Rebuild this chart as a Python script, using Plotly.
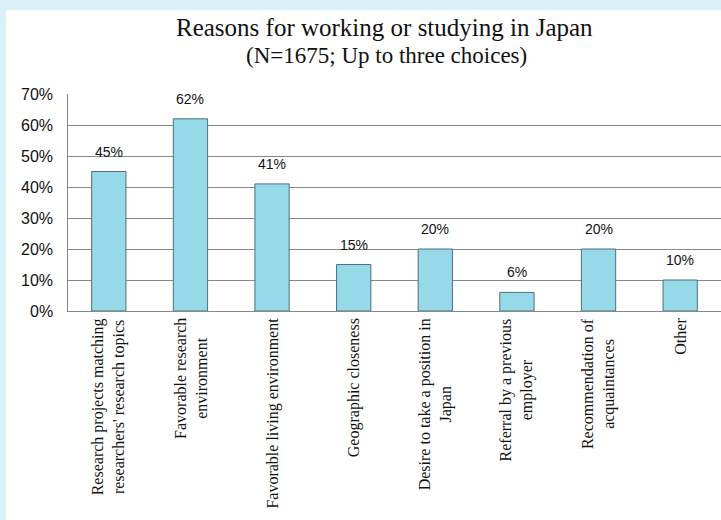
import plotly.graph_objects as go

# Survey results: share of respondents choosing each reason (up to three choices)
reasons = [
    "Research projects matching<br>researchers' research topics",
    "Favorable research<br>environment",
    "Favorable living environment",
    "Geographic closeness",
    "Desire to take a position in<br>Japan",
    "Referral by a previous<br>employer",
    "Recommendation of<br>acquaintances",
    "Other",
]
shares = [45, 62, 41, 15, 20, 6, 20, 10]
y_ticks = [0, 10, 20, 30, 40, 50, 60, 70]
y_tick_text = [f"{t}%" for t in y_ticks]

title_line1 = "Reasons for working or studying in Japan"
title_line2 = "(N=1675; Up to three choices)"

SERIF = "Liberation Serif, Times New Roman, serif"
SANS = "Liberation Sans, Arial, sans-serif"

cats = list(range(len(reasons)))

fig = go.Figure()
fig.add_trace(go.Bar(
    x=cats,
    y=shares,
    marker=dict(color="#96d9e8", line=dict(color="#4f6f7a", width=1)),
    hoverinfo="skip",
))

# Value labels above each bar
for c, v in zip(cats, shares):
    fig.add_annotation(
        x=c, y=v, xref="x", yref="y",
        text=f"{v}%", showarrow=False,
        yanchor="bottom", yshift=10,
        font=dict(family=SANS, size=14, color="#111111"),
    )

# Rotated category labels under the axis
for c, name in zip(cats, reasons):
    fig.add_annotation(
        x=c, y=0, xref="x", yref="paper",
        text=name, showarrow=False, textangle=-90,
        xanchor="center", yanchor="top", yshift=-5, align="center",
        font=dict(family=SERIF, size=16, color="#111111"),
    )

# Percentage labels along the value axis
for t, label in zip(y_ticks, y_tick_text):
    fig.add_annotation(
        x=0, y=t, xref="paper", yref="y",
        text=label, showarrow=False,
        xanchor="right", yanchor="middle", xshift=-13,
        font=dict(family=SANS, size=16, color="#111111"),
    )

# Title block
fig.add_annotation(
    x=0.485, y=1.0, xref="paper", yref="paper", yshift=67,
    text=title_line1, showarrow=False, yanchor="middle",
    font=dict(family=SERIF, size=25, color="#111111"),
)
fig.add_annotation(
    x=0.488, y=1.0, xref="paper", yref="paper", yshift=39,
    text=title_line2, showarrow=False, yanchor="middle",
    font=dict(family=SERIF, size=23, color="#111111"),
)

# White chart panel over the light blue page
fig.add_shape(
    type="rect", xref="paper", yref="paper",
    x0=-0.095, x1=1.01, y0=-0.97, y1=1.387,
    fillcolor="white", line=dict(width=0), layer="below",
)

fig.update_layout(
    width=721, height=520,
    margin=dict(l=68, r=0, t=94, b=209),
    paper_bgcolor="#dcf0fa",
    plot_bgcolor="white",
    showlegend=False,
    bargap=0.58,
    xaxis=dict(
        range=[-0.5, len(reasons) - 0.5],
        showticklabels=False, ticks="",
        showgrid=False, zeroline=False,
        showline=True, linecolor="#888888", linewidth=1,
        fixedrange=True,
    ),
    yaxis=dict(
        range=[0, 70],
        tickmode="array", tickvals=y_ticks,
        showticklabels=False, ticks="",
        showgrid=True, gridcolor="#888888", gridwidth=1,
        zeroline=False,
        showline=True, linecolor="#888888", linewidth=1,
        fixedrange=True,
    ),
)

fig.write_html("out.html")
